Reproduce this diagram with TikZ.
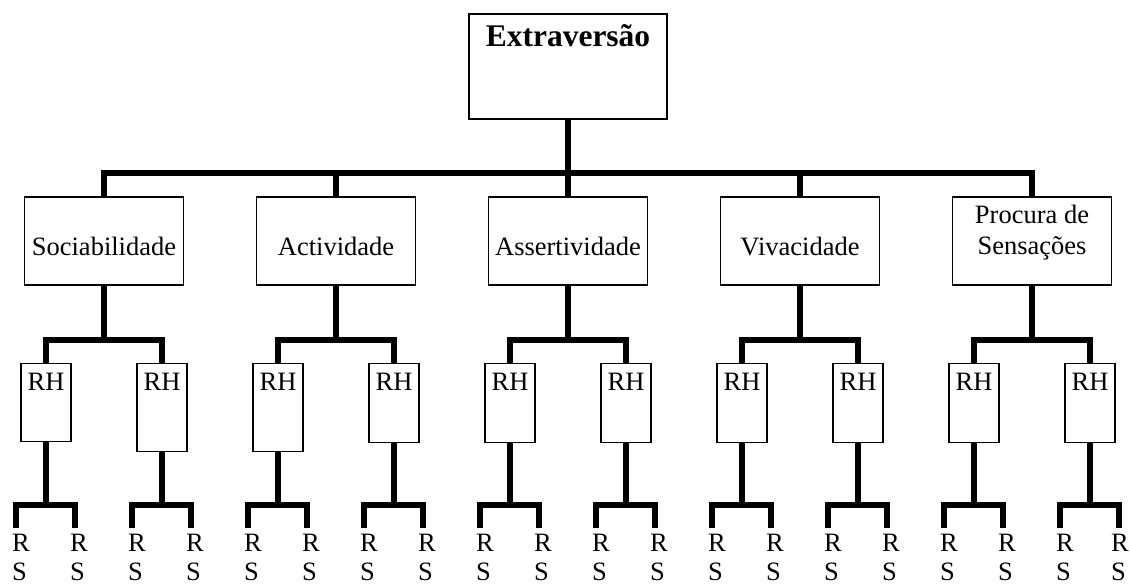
\documentclass[tikz,border=0pt]{standalone}
\usepackage{fontspec}
\setmainfont{Liberation Serif}
\begin{document}
\begin{tikzpicture}[x=1pt,y=-1pt,
  cbox/.style={draw, line width=1.2pt, rectangle, inner sep=0pt, minimum width=159pt, minimum height=88pt},
  rhbox/.style={draw, line width=1.2pt, rectangle, inner sep=0pt, minimum width=50pt, anchor=north},
  lbl/.style={font=\fontsize{26.5}{31}\selectfont, inner sep=0pt, anchor=base},
  rs/.style={font=\fontsize{26.5}{31}\selectfont, inner sep=0pt, anchor=base west},
  conn/.style={line width=6pt, line join=miter}]
\useasboundingbox (0,0) rectangle (1130,586);

% top box
\node[draw, line width=1.2pt, inner sep=0pt, minimum width=198pt, minimum height=105pt] (top) at (568,66.5) {};
\node[lbl, font=\bfseries\fontsize{31.5}{36}\selectfont] (toptext) at (568,47) {Extraversão};
\coordinate (bus) at (568,173);

% category boxes
\foreach \i in {0,...,4} {
  \node[cbox] (c\i) at ({104+232*\i},241) {};
}
\foreach \i/\t in {0/Sociabilidade,1/Actividade,2/Assertividade,3/Vivacidade} {
  \node[lbl] (ct\i) at ({104+232*\i},255) {\t};
}
\node[lbl] (ct4a) at (1032,223) {Procura de};
\node[lbl] (ct4b) at (1032,254) {Sensações};

% top connectors
\draw[conn] (top.south) -- (bus);
\draw[conn] (c0.north) |- (bus) -| (c4.north);
\foreach \i in {1,2,3} {
  \draw[conn] (c\i.north) -- (c\i.north |- bus);
}

% RH boxes
\foreach \k/\h in {0/78,1/88,2/88,3/79,4/79,5/79,6/79,7/79,8/79,9/79} {
  \pgfmathsetmacro\xx{46+116*\k}
  \node[rhbox, minimum height=\h pt] (h\k) at (\xx,363) {};
  \node[lbl] (ht\k) at (\xx,390) {RH};
}

% category -> RH connectors
\foreach \i in {0,...,4} {
  \pgfmathtruncatemacro\ka{2*\i}
  \pgfmathtruncatemacro\kb{2*\i+1}
  \coordinate (sub\i) at ({104+232*\i},340);
  \draw[conn] (c\i.south) -- (sub\i);
  \draw[conn] (h\ka.north) |- (sub\i) -| (h\kb.north);
}

% RH -> RS connectors and RS labels
\foreach \k/\o in {0/5,1/5,2/5,3/5,4/5,5/5,6/5,7/5,8/5,9/8} {
  \pgfmathsetmacro\xx{46+116*\k}
  \pgfmathsetmacro\xl{16+116*\k}
  \pgfmathsetmacro\xr{75+116*\k}
  \coordinate (rb\k) at (\xx,505);
  \coordinate (dl\k) at (\xl,528);
  \coordinate (dr\k) at (\xr,528);
  \draw[conn] (h\k.south) -- (rb\k);
  \draw[conn] (dl\k) |- (rb\k) -| (dr\k);
  \node[rs] (rl\k) at (\xl-4,551) {R};
  \node[rs] (sl\k) at (\xl-4,580) {S};
  \node[rs] (rr\k) at (\xr-\o,551) {R};
  \node[rs] (sr\k) at (\xr-\o,580) {S};
}
\end{tikzpicture}
\end{document}
